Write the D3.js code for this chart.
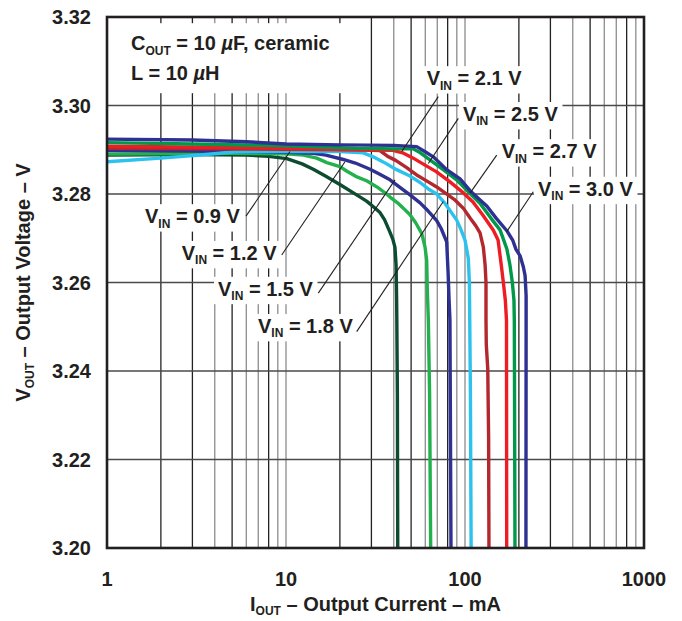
<!DOCTYPE html>
<html>
<head>
<meta charset="utf-8">
<script src="https://cdn.jsdelivr.net/npm/d3@7"></script>
<style>
  body { margin: 0; background: #fff; }
  text { font-family: "Liberation Sans", Arial, Helvetica, sans-serif; font-weight: bold; fill: #231f20; }
</style>
</head>
<body>
<svg></svg>
<script>
// output current (mA) vs output voltage (V), one array per input voltage
var curve09 = [[1,3.2888],[3,3.2889],[6,3.2888],[8,3.2885],[10.1,3.2880],[12.3,3.2868],[14.2,3.2856],[16.7,3.2840],[20.1,3.2821],[24.8,3.2798],[28.2,3.2784],[31,3.2770],[33.5,3.2758],[35.5,3.2742],[37.5,3.2720],[39.5,3.2698],[40.6,3.2680],[41.2,3.2640],[41.5,3.2560],[41.6,3.2515],[41.9,3.235],[42.1,3.20]];
var curve12 = [[1,3.2890],[5,3.2892],[10,3.2891],[12.5,3.2888],[14.85,3.2881],[16.9,3.2871],[20,3.2862],[21.8,3.2852],[24.5,3.2840],[28.2,3.2830],[32.5,3.2815],[36.5,3.2800],[38.1,3.2793],[42,3.2780],[45.2,3.2768],[49.3,3.2753],[53,3.2735],[57.3,3.2711],[59.8,3.2680],[61.1,3.2650],[61.6,3.2580],[62.4,3.2515],[63.4,3.235],[64.3,3.20]];
var curve15 = [[1,3.2898],[3,3.2897],[7,3.2895],[10,3.2894],[14.2,3.2892],[16.7,3.2888],[20.9,3.2878],[24.4,3.2870],[29.5,3.2856],[33.2,3.2845],[38.1,3.2832],[43.3,3.2815],[49.3,3.2798],[56.1,3.2780],[62.1,3.2762],[69.5,3.2740],[73.6,3.2722],[79,3.2692],[80.5,3.2620],[81.5,3.2560],[82.4,3.2515],[83.5,3.20]];
var curve18 = [[1,3.2873],[2,3.2881],[3.3,3.2888],[5.1,3.2895],[10,3.2896],[20,3.2896],[27,3.2893],[30.7,3.2884],[35.1,3.2872],[41.5,3.2855],[48.6,3.2842],[56.1,3.2826],[62.1,3.2812],[69.5,3.2800],[77.5,3.2778],[89.9,3.2741],[94.8,3.2720],[100,3.2696],[104.3,3.2655],[105.8,3.2600],[106.3,3.2515],[107.2,3.235],[108.2,3.20]];
var curve21 = [[1,3.2903],[10,3.2901],[25,3.2900],[33.5,3.2898],[37,3.2885],[41,3.2876],[47,3.2860],[53.7,3.2843],[62,3.2828],[69.5,3.2816],[77,3.2803],[87,3.2788],[97.8,3.2768],[107,3.2745],[115,3.2728],[121.3,3.2712],[126.6,3.2680],[129.5,3.2640],[131,3.2600],[131,3.2515],[131.5,3.2460],[134,3.2405],[135.5,3.225],[136.1,3.20]];
var curve25 = [[1,3.2908],[5,3.2905],[10,3.2903],[25,3.2900],[39,3.2899],[44.8,3.2893],[51.4,3.2881],[58.2,3.2868],[69.4,3.2850],[82.1,3.2828],[97.6,3.2803],[110.8,3.2782],[126,3.2752],[144,3.2718],[153,3.2696],[156.5,3.2665],[159.6,3.2638],[164,3.2598],[168,3.2560],[170.5,3.2515],[171,3.20]];
var curve27 = [[1,3.2916],[3,3.2913],[10,3.2909],[25,3.2903],[45,3.2902],[51.4,3.2902],[56.3,3.2893],[63.7,3.2877],[75.5,3.2855],[89.8,3.2832],[104.3,3.2805],[121.2,3.2779],[139.8,3.2745],[156.9,3.2719],[163.8,3.2698],[171.5,3.2675],[178.2,3.2640],[183.9,3.2600],[187.7,3.2560],[188.6,3.2515],[190.2,3.20]];
var curve30 = [[1,3.2924],[3,3.2922],[6,3.2918],[10,3.2913],[20,3.2911],[40,3.2910],[53.7,3.2907],[60.2,3.2895],[66.5,3.2884],[79,3.2855],[93.9,3.2834],[106.4,3.2808],[118.9,3.2790],[132.3,3.2773],[149.6,3.2745],[171.2,3.2717],[185,3.2695],[192.7,3.2675],[203.3,3.2660],[211.9,3.2635],[216.7,3.2615],[219.5,3.2570],[219.5,3.2515],[219,3.20]];

var vinLabels = ["0.9", "1.2", "1.5", "1.8", "2.1", "2.5", "2.7", "3.0"];
var curves = [curve09, curve12, curve15, curve18, curve21, curve25, curve27, curve30];
var colors = ["#0d4c30", "#22b14c", "#2e3192", "#2cc2ee", "#b2282e", "#ee1d24", "#00994a", "#2e3192"];

var xTicks = [1, 10, 100, 1000];
var yTicks = [3.20, 3.22, 3.24, 3.26, 3.28, 3.30, 3.32];

// label text start / leader line ends, in data units (mA, V)
var labelAt = [[1.631,3.2734],[2.615,3.2651],[4.170,3.2570],[6.975,3.2486],[61.09,3.3046],[97.4,3.2965],[160.3,3.2881],[255.7,3.2796]];
var leaderFrom = [[5.976,3.2750],[9.462,3.2662],[15.15,3.2576],[24.83,3.2489],[70.93,3.3020],[91.75,3.2971],[150.4,3.2888],[240.7,3.2805]];
var leaderTo = [[10.53,3.2896],[21.36,3.2873],[40.64,3.2832],[75.64,3.2783],[44.31,3.2896],[62.37,3.2869],[106.7,3.2802],[171.0,3.2715]];
var noteAt = [1.362, 3.3125];

var width = 682, height = 621;
var margin = {top: 17, right: 38, bottom: 73, left: 107};

var svg = d3.select("svg").attr("width", width).attr("height", height);

var x = d3.scaleLog().domain([1, 1000]).range([margin.left, width - margin.right]);
var y = d3.scaleLinear().domain([3.20, 3.32]).range([height - margin.bottom, margin.top]);

// text with subscript / italic pieces: [string, "sub" | "it" | ""]
function rich(sel, parts, size) {
    var shift = 0;
    parts.forEach(function (p) {
        var t = sel.append("tspan").text(p[0]);
        var want = p[1] == "sub" ? size * 0.22 : 0;
        if (want != shift) {
            t.attr("dy", want - shift);
            shift = want;
        }
        if (p[1] == "sub") t.attr("font-size", size * 0.6);
        if (p[1] == "it") t.attr("font-style", "italic");
    });
}

// grid
var grid = svg.append("g");
[1, 10, 100].forEach(function (dec) {
    for (var k = 2; k <= 10; k++) {
        var v = k * dec;
        if (v >= 1000) continue;
        var dark = [2, 3, 5, 8].indexOf(k) >= 0;
        grid.append("line")
            .attr("x1", x(v)).attr("x2", x(v))
            .attr("y1", y(3.20)).attr("y2", y(3.32))
            .attr("stroke", dark ? "#222" : "#8c8c8c")
            .attr("stroke-width", 1.3);
    }
});
yTicks.slice(1, -1).forEach(function (v) {
    grid.append("line")
        .attr("x1", x(1)).attr("x2", x(1000))
        .attr("y1", y(v)).attr("y2", y(v))
        .attr("stroke", "#4a4a4a")
        .attr("stroke-width", 1.3);
});

// note box
var note = svg.append("g");
var noteBg = note.append("rect").attr("fill", "#fff");
var n1 = note.append("text").attr("x", x(noteAt[0])).attr("y", y(noteAt[1])).attr("font-size", 20);
rich(n1, [["C", ""], ["OUT", "sub"], [" = 10 ", ""], ["\u00b5", "it"], ["F, ceramic", ""]], 20);
var n2 = note.append("text").attr("x", x(noteAt[0])).attr("y", y(noteAt[1]) + 30).attr("font-size", 20);
rich(n2, [["L = 10 ", ""], ["\u00b5", "it"], ["H", ""]], 20);
var nb = note.node().getBBox();
noteBg.attr("x", x(1) + 1).attr("y", nb.y - 9)
    .attr("width", nb.x + nb.width + 12 - x(1)).attr("height", nb.height + 18);

// curve labels
var labels = svg.append("g");
vinLabels.forEach(function (v, i) {
    var g = labels.append("g");
    var bg = g.append("rect").attr("fill", "#fff");
    var t = g.append("text")
        .attr("x", x(labelAt[i][0])).attr("y", y(labelAt[i][1]))
        .attr("font-size", 20);
    rich(t, [["V", ""], ["IN", "sub"], [" = " + v + " V", ""]], 20);
    var b = t.node().getBBox();
    bg.attr("x", b.x - 4).attr("y", b.y - 1).attr("width", b.width + 8).attr("height", b.height + 2);
});

// curves
var line = d3.line()
    .x(function (d) { return x(d[0]); })
    .y(function (d) { return y(d[1]); });

svg.append("clipPath").attr("id", "plot")
    .append("rect").attr("x", x(1)).attr("y", y(3.32))
    .attr("width", x(1000) - x(1)).attr("height", y(3.20) - y(3.32));

svg.append("g").attr("clip-path", "url(#plot)")
    .selectAll("path")
    .data(curves)
    .enter()
    .append("path")
    .attr("d", line)
    .attr("fill", "none")
    .attr("stroke", function (d, i) { return colors[i]; })
    .attr("stroke-width", 3.4)
    .attr("stroke-linejoin", "round");

// leader lines
svg.append("g").selectAll("line")
    .data(leaderFrom)
    .enter()
    .append("line")
    .attr("x1", function (d) { return x(d[0]); })
    .attr("y1", function (d) { return y(d[1]); })
    .attr("x2", function (d, i) { return x(leaderTo[i][0]); })
    .attr("y2", function (d, i) { return y(leaderTo[i][1]); })
    .attr("stroke", "#231f20")
    .attr("stroke-width", 1.1);

// frame
svg.append("rect")
    .attr("x", x(1)).attr("y", y(3.32))
    .attr("width", x(1000) - x(1)).attr("height", y(3.20) - y(3.32))
    .attr("fill", "none").attr("stroke", "#231f20").attr("stroke-width", 2.6);

// tick labels
svg.append("g").selectAll("text")
    .data(yTicks)
    .enter()
    .append("text")
    .attr("x", x(1) - 16)
    .attr("y", function (d) { return y(d) + 7; })
    .attr("text-anchor", "end")
    .attr("font-size", 20)
    .text(function (d) { return d.toFixed(2); });

svg.append("g").selectAll("text")
    .data(xTicks)
    .enter()
    .append("text")
    .attr("x", function (d) { return x(d); })
    .attr("y", y(3.20) + 38)
    .attr("text-anchor", "middle")
    .attr("font-size", 20)
    .text(function (d) { return d; });

// axis titles
var xt = svg.append("text")
    .attr("x", (x(1) + x(1000)) / 2)
    .attr("y", height - 10)
    .attr("text-anchor", "middle")
    .attr("font-size", 20);
rich(xt, [["I", ""], ["OUT", "sub"], [" \u2013 Output Current \u2013 mA", ""]], 20);

var yt = svg.append("text")
    .attr("transform", "translate(30," + (y(3.26)) + ") rotate(-90)")
    .attr("text-anchor", "middle")
    .attr("font-size", 20);
rich(yt, [["V", ""], ["OUT", "sub"], [" \u2013 Output Voltage \u2013 V", ""]], 20);
</script>
</body>
</html>
